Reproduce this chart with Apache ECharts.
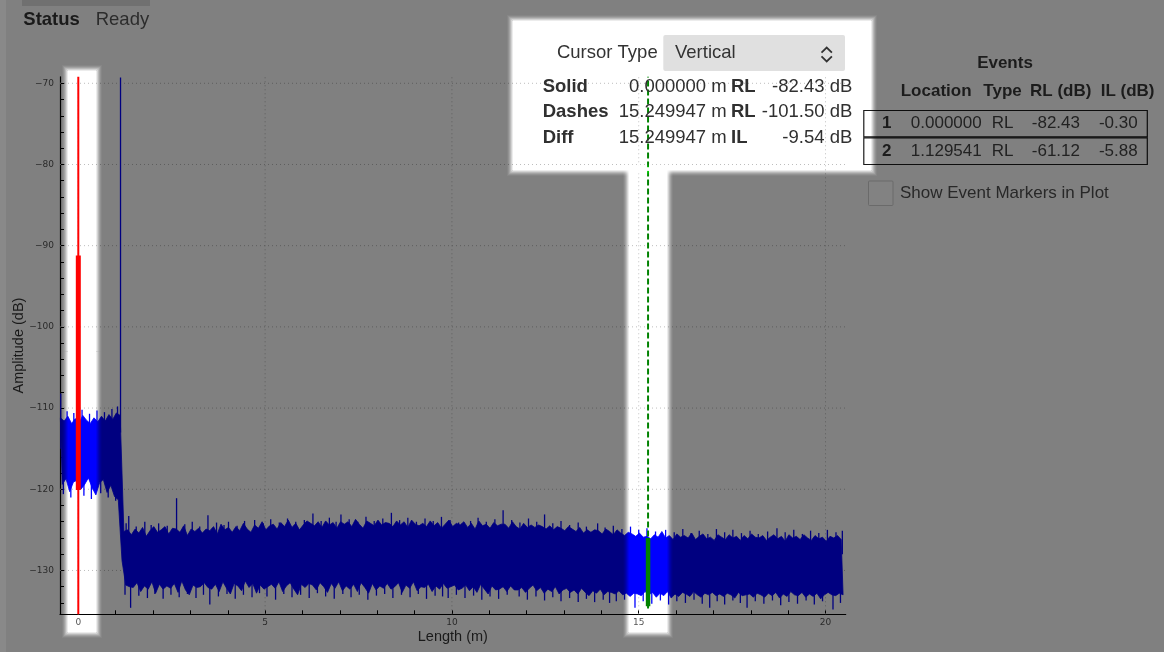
<!DOCTYPE html>
<html><head><meta charset="utf-8">
<script src="https://cdn.jsdelivr.net/npm/echarts@6/dist/echarts.min.js"></script>
<style>html,body{margin:0;padding:0;background:#808080;overflow:hidden}#c{width:1164px;height:652px}</style>
</head><body><div id="c"></div>
<script>
// ---------- data ----------
const traceStart = -0.48;   // metres, first sample
const traceStep = 0.1;      // metres between samples
const traceUpper = [
 -111.2,-111.6,-111.0,-111.9,-111.3,-111.8,-110.9,-111.5,-111.9,-111.2,-111.7,-111.0,-111.6,-110.8,-111.4,-110.6,-110.9,
 -125.2,-125.0,-125.6,-124.9,-125.4,-124.7,-125.8,-125.1,-124.6,-125.3,
 -125.0,-124.6,-125.5,-124.8,-124.9,-125.3,-124.5,-125.7,-124.9,-125.2,
 -124.8,-125.4,-124.9,-125.1,-124.6,-125.5,-124.3,-125.0,-124.7,-125.3,
 -124.6,-125.1,-124.2,-124.9,-125.3,-124.4,-124.8,-124.0,-125.0,-124.5,
 -124.3,-124.9,-124.1,-124.6,-123.8,-124.7,-124.2,-125.0,-124.4,-123.9,
 -124.2,-124.5,-124.0,-124.7,-123.9,-124.4,-124.1,-124.8,-124.0,-124.3,
 -124.0,-124.6,-123.7,-124.3,-124.8,-123.9,-124.2,-124.5,-123.8,-124.4,
 -124.1,-124.2,-124.6,-123.9,-124.4,-124.0,-124.7,-123.8,-124.3,-124.5,
 -124.2,-124.6,-123.9,-124.5,-124.1,-124.8,-124.3,-123.8,-124.6,-124.2,
 -124.4,-124.0,-124.7,-124.2,-124.9,-123.9,-124.5,-124.3,-124.8,-124.1,
 -124.5,-124.3,-124.3,-124.8,-124.0,-124.6,-124.9,-124.2,-124.7,-124.4,
 -124.7,-124.4,-124.6,-124.9,-124.5,-125.0,-124.6,-124.8,-125.1,-124.6,
 -124.9,-125.2,-124.7,-125.4,-125.0,-125.3,-125.0,-125.1,-125.5,-124.9,
 -125.2,-125.6,-125.0,-125.4,-125.7,-125.3,-125.5,-125.8,-125.4,-125.9,
 -125.8,-126.1,-125.6,-125.9,-125.2,-126.0,-125.7,-126.2,-125.5,-125.9,
 -125.7,-126.0,-125.4,-126.2,-125.8,-125.5,-126.1,-125.9,-126.3,-125.6,
 -125.9,-126.2,-125.6,-126.0,-125.8,-126.3,-125.7,-126.1,-125.5,-125.9,
 -126.0,-125.7,-126.3,-125.9,-125.6,-126.1,-125.8,-126.4,-125.6,-126.0,
 -125.8,-126.2,-125.6,-126.0,-126.3,-125.7,-126.1,-125.9,-126.4,-125.8,
 -126.0,-125.7,-126.2
];
const traceLower = [
 -119.4,-118.7,-120.3,-119.1,-118.9,-120.0,-119.4,-118.6,-119.8,-120.7,-119.2,-118.8,-120.4,-119.5,-120.9,-121.3,-128.8,
 -131.8,-132.0,-132.1,-131.5,-132.6,-131.9,-132.3,-131.4,-132.8,-131.7,
 -132.3,-131.9,-132.2,-131.6,-132.7,-131.3,-132.4,-133.0,-131.8,-132.1,
 -132.0,-131.5,-132.1,-132.3,-131.7,-132.6,-131.4,-132.2,-132.9,-131.6,
 -131.9,-132.5,-131.3,-132.1,-131.6,-132.8,-131.8,-132.3,-132.0,-131.7,
 -132.2,-131.4,-132.6,-131.9,-131.5,-132.3,-133.0,-131.7,-132.1,-131.6,
 -131.8,-132.4,-131.5,-132.0,-132.7,-131.6,-132.2,-131.4,-132.5,-131.9,
 -132.3,-131.7,-132.6,-131.5,-132.1,-132.8,-131.6,-132.4,-131.9,-132.2,
 -131.6,-132.3,-132.0,-131.5,-132.7,-131.8,-132.2,-131.4,-132.5,-132.0,
 -132.1,-131.7,-132.6,-131.9,-132.3,-131.6,-132.2,-132.0,-131.8,-132.4,
 -132.2,-131.8,-132.5,-132.0,-132.7,-131.7,-132.3,-132.9,-131.9,-132.4,
 -132.3,-132.0,-132.6,-131.9,-132.4,-132.4,-132.1,-132.7,-132.2,-131.8,
 -132.5,-132.1,-132.8,-132.3,-132.6,-132.0,-132.9,-132.4,-132.2,-132.7,
 -132.4,-132.9,-132.2,-132.7,-133.1,-132.5,-132.8,-132.3,-133.0,-132.6,
 -132.7,-132.9,-132.5,-133.0,-132.8,-133.2,-132.8,-132.9,-133.1,-132.6,
 -133.0,-132.7,-133.3,-132.8,-133.1,-132.6,-133.4,-132.9,-133.2,-132.7,
 -132.9,-133.2,-132.6,-133.0,-133.3,-132.8,-133.0,-132.7,-133.1,-132.9,
 -133.2,-132.8,-133.0,-133.4,-132.7,-133.1,-133.0,-132.9,-133.3,-132.8,
 -133.0,-133.3,-132.8,-133.1,-132.7,-133.4,-132.9,-133.2,-132.6,-133.0,
 -133.1,-132.7,-133.3,-132.9,-133.2,-132.8,-133.5,-133.0,-132.7,-133.0,
 -133.1,-132.8,-133.0
];
// narrow peaks of the trace: [position m, foot dB, tip dB]
const traceSpikes = [
 [-0.47,-115,-108.2],[-0.30,-115,-110.4],[-0.12,-115,-110.6],[0.10,-115,-110.2],[0.30,-115,-110.7],
 [0.50,-115,-110.3],[0.70,-115,-110.5],[0.90,-115,-110.1],[1.05,-115,-109.8],[1.13,-113,-69.3],
 [-0.40,-116,-120.6],[-0.20,-116,-121.0],[0.15,-116,-120.8],[0.35,-116,-121.2],[0.60,-116,-120.5],
 [0.80,-116,-121.0],[1.00,-116,-121.4],
 [1.28,-127,-124.2],[1.35,-127,-123.3],[1.55,-127,-124.6],[1.78,-127,-124.0],[1.95,-127,-124.4],
 [2.15,-127,-124.2],[2.38,-127,-124.5],[2.63,-127,-121.1],[2.85,-127,-124.3],[3.05,-127,-124.0],
 [3.25,-127,-124.6],[3.47,-127,-123.2],[3.70,-127,-124.1],[3.90,-127,-124.4],[4.02,-127,-124.0],
 [4.25,-127,-124.5],[4.45,-127,-123.9],[4.72,-127,-123.8],[4.95,-127,-124.2],[5.15,-127,-123.7],
 [5.38,-127,-124.1],[5.60,-127,-123.6],[5.82,-127,-124.0],[6.05,-127,-123.8],[6.28,-127,-123.0],
 [6.50,-127,-123.9],[6.72,-127,-123.5],[6.90,-127,-124.0],[7.03,-127,-123.1],[7.25,-127,-123.7],
 [7.48,-127,-124.0],[7.70,-127,-123.4],[7.92,-127,-123.9],[8.15,-127,-123.6],[8.38,-127,-122.9],
 [8.60,-127,-123.8],[8.82,-127,-123.5],[9.05,-127,-124.0],[9.28,-127,-123.6],[9.50,-127,-123.9],
 [9.72,-127,-123.4],[9.95,-127,-123.8],[10.18,-127,-124.1],[10.50,-127,-123.9],[10.70,-127,-123.5],
 [10.92,-127,-124.0],[11.15,-127,-123.7],[11.37,-127,-122.6],[11.60,-127,-123.8],[11.82,-127,-124.1],
 [12.05,-127,-123.6],[12.27,-127,-124.0],[12.48,-127,-123.1],[12.70,-127,-124.2],[12.92,-127,-123.9],
 [13.15,-127,-124.4],[13.38,-127,-124.1],[13.60,-127,-124.6],[13.90,-127,-124.2],[14.10,-127,-124.7],
 [14.32,-127,-124.5],[14.55,-127,-124.9],[14.78,-127,-124.6],[15.00,-128,-125.0],[15.22,-128,-124.8],
 [15.45,-128,-125.2],[15.72,-128,-125.0],[15.95,-128,-125.3],[16.18,-128,-124.9],[16.40,-128,-125.4],
 [16.62,-128,-125.1],[16.85,-128,-125.5],[17.08,-128,-124.9],[17.30,-128,-125.3],[17.52,-128,-125.0],
 [17.75,-128,-125.4],[17.98,-128,-125.1],[18.20,-128,-125.5],[18.45,-128,-125.2],[18.70,-128,-124.8],
 [18.92,-128,-125.3],[19.15,-128,-125.0],[19.38,-128,-125.5],[19.60,-128,-125.1],[19.82,-128,-125.4],
 [20.05,-128,-125.0],[20.28,-128,-125.3],[20.45,-128,-125.1],
 [1.25,-130,-133.0],[1.40,-130,-134.6],[1.62,-130,-133.1],[1.85,-130,-133.4],[2.05,-130,-132.9],
 [2.27,-130,-133.5],[2.48,-130,-133.0],[2.70,-130,-133.3],[2.92,-130,-132.9],[3.15,-130,-133.4],
 [3.35,-130,-133.0],[3.52,-130,-134.2],[3.75,-130,-133.2],[3.98,-130,-132.9],[4.20,-130,-133.5],
 [4.42,-130,-133.0],[4.65,-130,-133.3],[4.85,-130,-132.8],[5.05,-130,-133.2],[5.28,-130,-133.6],
 [5.50,-130,-132.9],[5.72,-130,-133.3],[5.95,-130,-133.0],[6.18,-130,-133.4],[6.40,-130,-132.8],
 [6.62,-130,-133.2],[6.85,-130,-133.5],[7.08,-130,-132.9],[7.30,-130,-133.3],[7.52,-130,-133.0],
 [7.75,-130,-133.6],[7.98,-130,-133.1],[8.20,-130,-132.9],[8.42,-130,-133.4],[8.65,-130,-133.0],
 [8.88,-130,-133.3],[9.10,-130,-132.9],[9.32,-130,-133.5],[9.55,-130,-133.1],[9.75,-130,-133.2],
 [9.90,-130,-133.4],[10.12,-130,-133.0],[10.35,-130,-133.4],[10.58,-130,-133.1],[10.80,-130,-133.6],
 [11.02,-130,-133.2],[11.25,-130,-133.5],[11.48,-130,-133.0],[11.80,-130,-133.2],[12.02,-130,-133.6],
 [12.25,-130,-133.2],[12.48,-130,-133.7],[12.70,-130,-133.3],[12.92,-130,-133.8],[13.15,-130,-133.4],
 [13.38,-130,-133.9],[13.60,-130,-133.5],[13.82,-130,-133.9],[14.05,-130,-133.6],[14.22,-130,-134.0],
 [14.40,-130,-133.8],[14.62,-130,-133.6],[14.90,-130,-134.6],[15.12,-130,-133.8],[15.35,-130,-134.1],
 [15.58,-130,-133.7],[15.80,-130,-134.2],[16.02,-130,-133.8],[16.25,-130,-134.0],[16.48,-130,-133.6],
 [16.70,-130,-134.1],[16.90,-130,-134.6],[17.10,-130,-133.8],[17.30,-130,-134.2],[17.52,-130,-133.7],
 [17.72,-130,-134.0],[17.90,-130,-134.6],[18.12,-130,-133.8],[18.35,-130,-134.1],[18.58,-130,-133.7],
 [18.80,-130,-134.3],[19.02,-130,-133.9],[19.25,-130,-134.1],[19.48,-130,-133.7],[19.70,-130,-134.2],
 [19.92,-130,-133.8],[20.20,-130,-134.8],[20.40,-130,-134.0]
];
const solidCursor = 0.0;            // m
const dashCursor = 15.25;           // m
const solidSegment = [-91.2, -120.1];
const dashSegment = [-126.0, -134.4];
const xRange = [-0.49, 20.54];
const yRange = [-135.4, -69.2];
const xTicks = [0,1,2,3,4,5,6,7,8,9,10,11,12,13,14,15,16,17,18,19,20];
const xTickLabels = [0,5,10,15,20];
const yTicks = [-134,-132,-130,-128,-126,-124,-122,-120,-118,-116,-114,-112,-110,-108,-106,-104,-102,-100,-98,-96,-94,-92,-90,-88,-86,-84,-82,-80,-78,-76,-74,-72,-70];
const yTickLabels = [-130,-120,-110,-100,-90,-80,-70];
const xAxisTitle = 'Length (m)';
const yAxisTitle = 'Amplitude (dB)';
const statusText = ['Status', 'Ready'];
const cursorTypeLabel = ['Cursor Type', 'Vertical'];
const cursorRows = [
  ['Solid',  '0.000000 m',  'RL', '-82.43 dB'],
  ['Dashes', '15.249947 m', 'RL', '-101.50 dB'],
  ['Diff',   '15.249947 m', 'IL', '-9.54 dB']
];
const eventsTitle = 'Events';
const eventHeaders = ['Location', 'Type', 'RL (dB)', 'IL (dB)'];
const eventRows = [
  ['1', '0.000000', 'RL', '-82.43', '-0.30'],
  ['2', '1.129541', 'RL', '-61.12', '-5.88']
];
const checkboxLabel = 'Show Event Markers in Plot';

// ---------- build ----------
const navy = '#000080';
const gridColor = '#5e5e5e';
const series = [];
xTickLabels.forEach(v => series.push({
  type: 'line', z: 1, silent: true, symbol: 'none', animation: false,
  data: [[v, yRange[0]], [v, yRange[1]]],
  lineStyle: { color: gridColor, width: 1, type: [1, 3] }
}));
yTickLabels.forEach(v => series.push({
  type: 'line', z: 1, silent: true, symbol: 'none', animation: false,
  data: [[xRange[0], v], [xRange[1], v]],
  lineStyle: { color: gridColor, width: 1, type: [1, 3] }
}));
series.push({
  type: 'custom', z: 2, silent: true, animation: false,
  data: [[traceStart, traceUpper[0]]],
  encode: { x: 0, y: 1 },
  renderItem: (params, api) => {
    const pts = [];
    traceUpper.forEach((v, i) => pts.push(api.coord([traceStart + i * traceStep, v])));
    for (let i = traceLower.length - 1; i >= 0; i--) pts.push(api.coord([traceStart + i * traceStep + traceStep / 2, traceLower[i]]));
    return { type: 'polygon', shape: { points: pts }, style: { fill: navy, stroke: navy, lineWidth: 0.8 } };
  }
});
series.push({
  type: 'custom', z: 2, silent: true, animation: false,
  data: traceSpikes,
  encode: { x: 0, y: [1, 2] },
  renderItem: (params, api) => {
    const a = api.coord([api.value(0), api.value(1)]);
    const b = api.coord([api.value(0), api.value(2)]);
    return { type: 'line', shape: { x1: a[0], y1: a[1], x2: b[0], y2: b[1] }, style: { stroke: navy, lineWidth: 1.3 } };
  }
});
series.push({
  type: 'line', z: 3, silent: true, symbol: 'none',
  data: [[solidCursor, yRange[0]], [solidCursor, yRange[1]]],
  lineStyle: { color: '#800000', width: 2 }
});
series.push({
  type: 'line', z: 3, silent: true, symbol: 'none',
  data: [[solidCursor, solidSegment[0]], [solidCursor, solidSegment[1]]],
  lineStyle: { color: '#800000', width: 5 }
});
series.push({
  type: 'line', z: 3, silent: true, symbol: 'none',
  data: [[dashCursor, yRange[0] + 0.7], [dashCursor, yRange[1]]],
  lineStyle: { color: '#004000', width: 2, type: [6, 3] }
});
series.push({
  type: 'line', z: 3, silent: true, symbol: 'none',
  data: [[dashCursor, dashSegment[0]], [dashCursor, dashSegment[1]]],
  lineStyle: { color: '#004000', width: 4.5 }
});

const uiFont = '"Liberation Sans", Arial, sans-serif';
const g = [];
g.push({ type: 'rect', silent: true, z: 0, shape: { x: 0, y: 0, width: 6, height: 652 }, style: { fill: '#898989' } });
g.push({ type: 'rect', silent: true, z: 0, shape: { x: 22, y: 0, width: 128, height: 6 }, style: { fill: '#707070' } });
g.push({ type: 'text', z: 5, x: 23.3, y: 19.5, style: { text: statusText[0], font: 'bold 18.5px ' + uiFont, fill: '#1a1a1a', verticalAlign: 'middle' } });
g.push({ type: 'text', z: 5, x: 95.7, y: 19.5, style: { text: statusText[1], font: '18.5px ' + uiFont, fill: '#2c2c2c', verticalAlign: 'middle' } });

const boxes = [[68, 71, 28, 561], [629, 170, 38, 462], [513, 21, 358, 149]];
const glow = [0.85, 0.65, 0.45, 0.28, 0.14, 0.05];
boxes.forEach(([x, y, w, h]) => {
  g.push({ type: 'rect', silent: true, z: 10, shape: { x, y, width: w, height: h }, style: { fill: '#808080', blend: 'color-dodge' } });
  glow.forEach((a, k) => {
    const d = k + 1;
    g.push({ type: 'rect', silent: true, z: 10,
      shape: { x: x - d + 0.5, y: y - d + 0.5, width: w + 2 * d - 1, height: h + 2 * d - 1 },
      style: { fill: null, stroke: 'rgba(128,128,128,' + a + ')', lineWidth: 1, blend: 'color-dodge' } });
  });
});

const pc = '#303030';
g.push({ type: 'text', z: 20, x: 657.7, y: 53, style: { text: cursorTypeLabel[0], font: '18.5px ' + uiFont, fill: '#333', align: 'right', verticalAlign: 'middle' } });
g.push({ type: 'rect', z: 20, shape: { x: 663.3, y: 35, width: 181.7, height: 36, r: 2 }, style: { fill: '#e0e0e0' } });
g.push({ type: 'text', z: 21, x: 675, y: 53, style: { text: cursorTypeLabel[1], font: '18.5px ' + uiFont, fill: '#333', verticalAlign: 'middle' } });
g.push({ type: 'polyline', z: 21, shape: { points: [[821.5, 52.6], [826.7, 47.6], [831.9, 52.6]] }, style: { stroke: '#333', lineWidth: 1.8, fill: null } });
g.push({ type: 'polyline', z: 21, shape: { points: [[821.5, 56.4], [826.7, 61.4], [831.9, 56.4]] }, style: { stroke: '#333', lineWidth: 1.8, fill: null } });
const rowY = [87.3, 112.3, 137.7];
cursorRows.forEach((r, i) => {
  const y = rowY[i];
  g.push({ type: 'text', z: 20, x: 542.7, y, style: { text: r[0], font: 'bold 18.5px ' + uiFont, fill: pc, verticalAlign: 'middle' } });
  g.push({ type: 'text', z: 20, x: 726.7, y, style: { text: r[1], font: '18.5px ' + uiFont, fill: pc, align: 'right', verticalAlign: 'middle' } });
  g.push({ type: 'text', z: 20, x: 731, y, style: { text: r[2], font: 'bold 18.5px ' + uiFont, fill: pc, verticalAlign: 'middle' } });
  g.push({ type: 'text', z: 20, x: 852.3, y, style: { text: r[3], font: '18.5px ' + uiFont, fill: pc, align: 'right', verticalAlign: 'middle' } });
});

const ec = '#1c1c1c';
g.push({ type: 'text', z: 5, x: 1005, y: 63.3, style: { text: eventsTitle, font: 'bold 17px ' + uiFont, fill: ec, align: 'center', verticalAlign: 'middle' } });
const hdrX = [900.7, 983.3, 1030, 1100.7];
eventHeaders.forEach((t, i) => g.push({ type: 'text', z: 5, x: hdrX[i], y: 91.7, style: { text: t, font: 'bold 17px ' + uiFont, fill: ec, verticalAlign: 'middle' } }));
const rowTop = [110, 137.3];
const rowH = [27.3, 27.7];
const erY = [123.5, 151.5];
eventRows.forEach((r, i) => {
  g.push({ type: 'rect', z: 5, shape: { x: 863.8, y: rowTop[i] + 0.5, width: 283.5, height: rowH[i] - 1 }, style: { fill: null, stroke: '#0d0d0d', lineWidth: 1.2 } });
  const y = erY[i];
  g.push({ type: 'text', z: 5, x: 886.7, y, style: { text: r[0], font: 'bold 17px ' + uiFont, fill: ec, align: 'center', verticalAlign: 'middle' } });
  g.push({ type: 'text', z: 5, x: 981.7, y, style: { text: r[1], font: '17px ' + uiFont, fill: '#222', align: 'right', verticalAlign: 'middle' } });
  g.push({ type: 'text', z: 5, x: 991.7, y, style: { text: r[2], font: '17px ' + uiFont, fill: '#222', verticalAlign: 'middle' } });
  g.push({ type: 'text', z: 5, x: 1080, y, style: { text: r[3], font: '17px ' + uiFont, fill: '#222', align: 'right', verticalAlign: 'middle' } });
  g.push({ type: 'text', z: 5, x: 1137.7, y, style: { text: r[4], font: '17px ' + uiFont, fill: '#222', align: 'right', verticalAlign: 'middle' } });
});
g.push({ type: 'rect', z: 5, shape: { x: 868.5, y: 181, width: 24.5, height: 24.5, r: 1 }, style: { fill: '#828282', stroke: '#6a6a6a', lineWidth: 1 } });
g.push({ type: 'text', z: 5, x: 900, y: 193.5, style: { text: checkboxLabel, font: '17px ' + uiFont, fill: '#282828', verticalAlign: 'middle' } });

const minus = v => String(v).replace('-', '\u2212');
const option = {
  animation: false,
  backgroundColor: '#808080',
  grid: { left: 60, right: 1164 - 845.7, top: 76.8, bottom: 652 - 614.3, containLabel: false, outerBoundsMode: 'none' },
  xAxis: {
    type: 'value', min: xRange[0], max: xRange[1],
    name: xAxisTitle, nameLocation: 'middle', nameGap: 15, nameMoveOverlap: false,
    nameTextStyle: { fontFamily: uiFont, fontSize: 14.5, color: '#1a1a1a' },
    axisLine: { show: true, onZero: false, lineStyle: { color: '#000', width: 1.2 } },
    axisTick: { show: true, inside: true, length: 4, customValues: xTicks, lineStyle: { color: '#000' } },
    axisLabel: { customValues: xTickLabels, margin: 4, fontFamily: 'DejaVu Sans', fontSize: 9, color: '#2a2a2a', formatter: minus },
    splitLine: { show: false }
  },
  yAxis: {
    type: 'value', min: yRange[0], max: yRange[1],
    name: yAxisTitle, nameLocation: 'middle', nameGap: 34, nameMoveOverlap: false,
    nameTextStyle: { fontFamily: uiFont, fontSize: 14.5, color: '#1a1a1a' },
    axisLine: { show: true, onZero: false, lineStyle: { color: '#000', width: 1.2 } },
    axisTick: { show: true, inside: true, length: 4, customValues: yTicks, lineStyle: { color: '#000' } },
    axisLabel: { customValues: yTickLabels, margin: 6, fontFamily: 'DejaVu Sans', fontSize: 9, color: '#2a2a2a', formatter: minus },
    splitLine: { show: false }
  },
  series,
  graphic: { elements: g }
};
const chart = echarts.init(document.getElementById('c'), null, { renderer: 'canvas' });
chart.setOption(option);
</script>
</body></html>
